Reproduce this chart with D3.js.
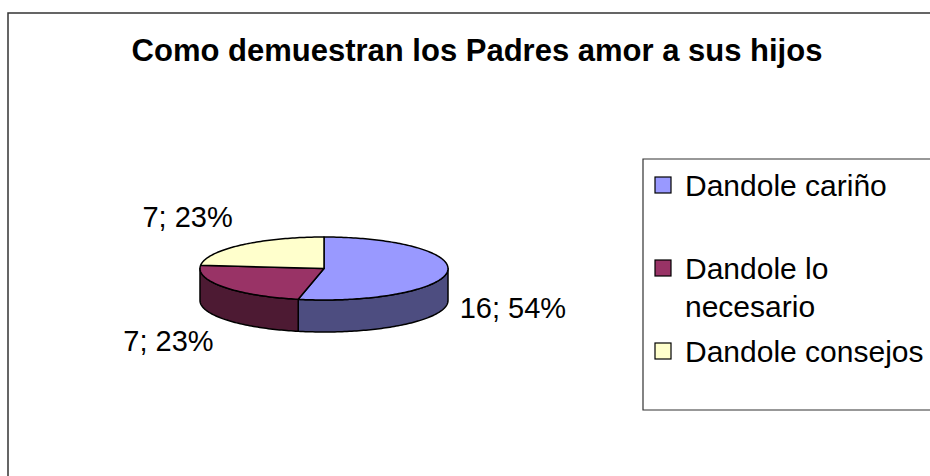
<!DOCTYPE html>
<html lang="es">
<head>
    <meta charset="UTF-8">
    <title>Como demuestran los Padres amor a sus hijos</title>
    <style>
        html, body { margin: 0; background: #fff; overflow: hidden; }
        svg { display: block; }
        text { font-family: "Liberation Sans", Arial, sans-serif; fill: #000; }
    </style>
    <script src="https://d3js.org/d3.v7.min.js"></script>
</head>
<body>
    <div id="chart"></div>
    <script>
        const categories = ["Dandole cariño", "Dandole lo necesario", "Dandole consejos"];
        const legendLines = [["Dandole cariño"], ["Dandole lo", "necesario"], ["Dandole consejos"]];
        const values = [16, 7, 7];
        const percentLabels = ["54%", "23%", "23%"];
        const topColors = ["#9999ff", "#993366", "#ffffcc"];
        const sideColors = ["#4d4d80", "#4d1a33", "#80805f"];

        const width = 930, height = 476;
        const svg = d3.select("#chart").append("svg")
            .attr("width", width).attr("height", height);

        // outer chart frame, only its left and top edges are in view
        svg.append("path")
            .attr("d", "M8,476V13H930")
            .attr("fill", "none").attr("stroke", "#333").attr("stroke-width", 1.5);

        svg.append("text")
            .attr("x", 477).attr("y", 61)
            .attr("text-anchor", "middle")
            .attr("font-size", 31).attr("font-weight", "bold")
            .text("Como demuestran los Padres amor a sus hijos");

        // 3D pie
        const cx = 324, cy = 268.5, rx = 124, ry = 31.5, depth = 32;
        const pie = d3.pie().sort(null).value(d => d);
        const arcs = pie(values);

        const pt = (a, dy = 0) => [cx + rx * Math.sin(a), cy - ry * Math.cos(a) + dy];
        const arcPoints = (a0, a1, dy = 0) => {
            const n = Math.max(2, Math.ceil(Math.abs(a1 - a0) / 0.02));
            return d3.range(n + 1).map(i => pt(a0 + (a1 - a0) * i / n, dy));
        };
        const line = d3.line();

        const g = svg.append("g");

        // side walls (only the front half is visible)
        arcs.forEach((d, i) => {
            const s = Math.max(d.startAngle, Math.PI / 2);
            const e = Math.min(d.endAngle, Math.PI * 3 / 2);
            if (s >= e) return;
            const pts = arcPoints(s, e).concat(arcPoints(e, s, depth));
            g.append("path")
                .attr("d", line(pts) + "Z")
                .attr("fill", sideColors[i])
                .attr("stroke", "#000").attr("stroke-width", 1.5)
                .attr("stroke-linejoin", "round");
        });

        // top faces
        arcs.forEach((d, i) => {
            const pts = [[cx, cy]].concat(arcPoints(d.startAngle, d.endAngle));
            g.append("path")
                .attr("d", line(pts) + "Z")
                .attr("fill", topColors[i])
                .attr("stroke", "#000").attr("stroke-width", 1.5)
                .attr("stroke-linejoin", "round");
        });

        // data labels
        arcs.forEach((d, i) => {
            const a = (d.startAngle + d.endAngle) / 2;
            const x = cx + rx * 1.1 * Math.sin(a);
            const lower = Math.cos(a) < 0;
            const y = cy - ry * 2.2 * Math.cos(a) + (lower ? depth : 0) + 10;
            svg.append("text")
                .attr("x", x).attr("y", y)
                .attr("text-anchor", Math.sin(a) >= 0 ? "start" : "end")
                .attr("font-size", 29)
                .text(values[i] + "; " + percentLabels[i]);
        });

        // legend (box runs past the right edge)
        const legend = svg.append("g");
        legend.append("path")
            .attr("d", "M930,159H643V410H930")
            .attr("fill", "#fff").attr("stroke", "#333").attr("stroke-width", 1.2);

        const itemY = d3.scalePoint().domain(categories).range([196, 362]);
        categories.forEach((c, i) => {
            const by = itemY(c);
            legend.append("rect")
                .attr("x", 655).attr("y", by - 19)
                .attr("width", 16).attr("height", 16)
                .attr("fill", topColors[i])
                .attr("stroke", "#000").attr("stroke-width", 1.2);
            legendLines[i].forEach((t, j) => {
                legend.append("text")
                    .attr("x", 685).attr("y", by + j * 38)
                    .attr("font-size", 30)
                    .text(t);
            });
        });
    </script>
</body>
</html>
